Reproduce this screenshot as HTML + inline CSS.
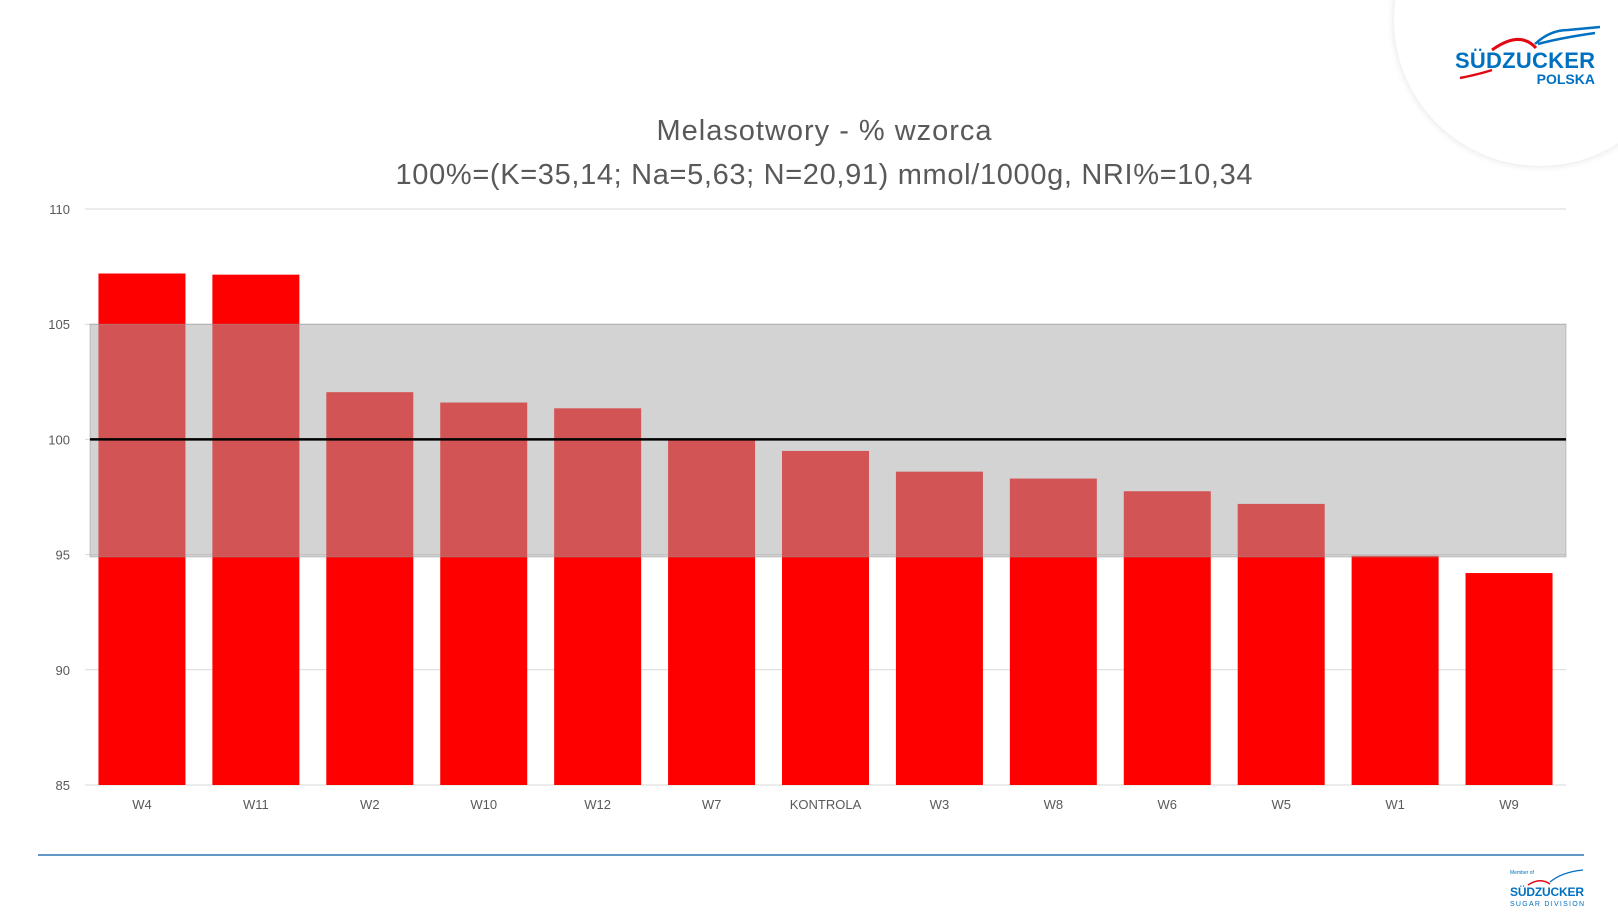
<!DOCTYPE html>
<html><head><meta charset="utf-8"><style>
body{margin:0;background:#fff;width:1618px;height:910px;overflow:hidden;font-family:"Liberation Sans",sans-serif}
</style></head><body>
<svg id="chart" width="1618" height="910" xmlns="http://www.w3.org/2000/svg">
<defs><filter id="sh" x="-20%" y="-20%" width="140%" height="140%"><feGaussianBlur stdDeviation="4"/></filter></defs>
<g>
<circle cx="1540" cy="20" r="146" fill="#000" opacity="0.12" filter="url(#sh)"/>
<circle cx="1540" cy="20" r="146" fill="#fff"/>
<path d="M1492 50 Q1520 30 1536 48" stroke="#e30613" stroke-width="3" fill="none"/>
<path d="M1460 78 Q1480 74 1492 70" stroke="#e30613" stroke-width="2.5" fill="none"/>
<path d="M1535 44 Q1550 30 1568 30 L1600 27 M1538 44 Q1560 38 1595 33" stroke="#0070c0" stroke-width="2.5" fill="none"/>
<text x="1595" y="68" text-anchor="end" font-size="22" font-weight="bold" fill="#0070c0" textLength="140">SÜDZUCKER</text>
<text x="1595" y="84" text-anchor="end" font-size="14" font-weight="bold" fill="#0070c0">POLSKA</text>
</g>
<text x="824" y="140" text-anchor="middle" font-size="29" fill="#595959" textLength="335">Melasotwory - % wzorca</text>
<text x="824" y="184" text-anchor="middle" font-size="29" fill="#595959" textLength="857">100%=(K=35,14; Na=5,63; N=20,91) mmol/1000g, NRI%=10,34</text>
<g id="grid"></g><g id="bars"></g><g id="band"></g><g id="labels"></g>
<line x1="38" y1="855" x2="1584" y2="855" stroke="#2e75b6" stroke-width="1.5"/>
<g>
<text x="1510" y="874" font-size="5" fill="#0070c0">Member of</text>
<path d="M1528 885 Q1540 877 1550 884" stroke="#e30613" stroke-width="1.5" fill="none"/>
<path d="M1550 882 Q1562 872 1583 870" stroke="#0070c0" stroke-width="1.2" fill="none"/>
<text x="1584" y="896" text-anchor="end" font-size="12" font-weight="bold" fill="#0070c0" textLength="74">SÜDZUCKER</text>
<text x="1584" y="906" text-anchor="end" font-size="7" fill="#0070c0" textLength="74">SUGAR    DIVISION</text>
</g>
</svg>
<script>
const categories=["W4","W11","W2","W10","W12","W7","KONTROLA","W3","W8","W6","W5","W1","W9"];
const values=[107.2,107.15,102.05,101.6,101.35,100.0,99.5,98.6,98.3,97.75,97.2,94.95,94.2];
const yTicks=[85,90,95,100,105,110];
const bandRange=[94.9,105];
const refValue=[100];
const NS="http://www.w3.org/2000/svg";
const x0=85,x1=1566,yMin=85,yMax=110,yTop=209,yBot=785;
const step=(x1-x0)/categories.length,bw=87;
function y(v){return yBot-(v-yMin)/(yMax-yMin)*(yBot-yTop);}
function xc(i){return x0+step*(i+0.5);}
function mk(tag,attrs,parent){const e=document.createElementNS(NS,tag);for(const k in attrs)e.setAttribute(k,attrs[k]);document.getElementById(parent).appendChild(e);return e;}
yTicks.forEach(t=>{
 const l=mk('line',{x1:x0,x2:x1,y1:y(t),y2:y(t),stroke:'#d9d9d9','stroke-width':1},'grid');
 
 
 const tx=mk('text',{x:70,y:y(t)+5,'text-anchor':'end','font-size':13,fill:'#595959'},'labels');
 tx.textContent=t;
 
 
});
categories.forEach((c,i)=>{
 const r=mk('rect',{x:xc(i)-bw/2,y:y(values[i]),width:bw,height:yBot-y(values[i]),fill:'#ff0000'},'bars');
 
 
 const tx=mk('text',{x:xc(i),y:809,'text-anchor':'middle','font-size':13,fill:'#595959'},'labels');
 tx.textContent=c;
 
 
});
const b=mk('rect',{x:90,y:y(bandRange[1]),width:x1-90,height:y(bandRange[0])-y(bandRange[1]),fill:'rgba(168,168,168,0.5)',stroke:'rgba(150,150,150,0.5)','stroke-width':1},'band');


const rl=mk('line',{x1:90,x2:x1,y1:y(refValue[0]),y2:y(refValue[0]),stroke:'#000','stroke-width':2.5},'band');


</script>
</body></html>
